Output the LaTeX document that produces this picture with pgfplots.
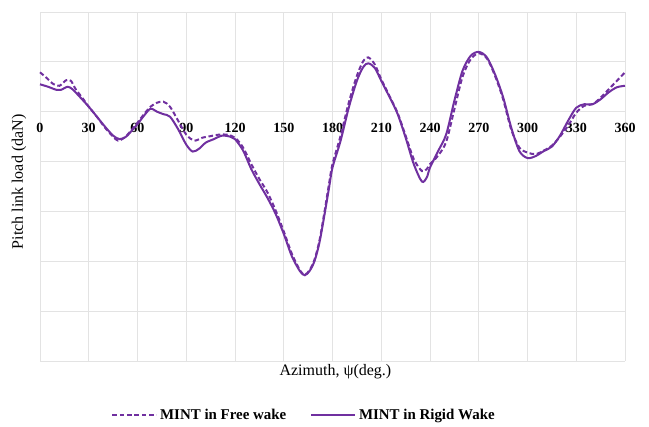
\documentclass[border=0pt]{standalone}
\usepackage{pgfplots}
\pgfplotsset{compat=1.18}
\usepackage{fontspec}
\setmainfont{Liberation Serif}
\definecolor{mintpurple}{HTML}{7030A0}
\definecolor{gridgray}{HTML}{E3E3E3}

% Pitch link load over one rotor revolution
\pgfplotstableread{
psi load
0 0.79
4 0.68
8 0.56
12 0.52
16 0.63
19 0.62
22 0.45
26 0.28
30 0.10
35 -0.10
40 -0.32
45 -0.50
48 -0.58
52 -0.52
56 -0.38
60 -0.22
64 -0.05
68 0.10
72 0.18
76 0.20
80 0.10
85 -0.18
90 -0.46
95 -0.58
100 -0.52
105 -0.49
110 -0.46
115 -0.46
120 -0.52
125 -0.72
130 -1.05
135 -1.35
140 -1.62
145 -1.98
150 -2.40
155 -2.85
160 -3.18
163 -3.27
166 -3.17
169 -2.96
172 -2.58
175 -2.02
178 -1.42
180 -1.05
185 -0.48
190 0.18
195 0.72
199 1.02
202 1.09
206 0.95
210 0.65
215 0.32
220 -0.02
225 -0.48
230 -0.95
235 -1.19
238 -1.15
240 -1.05
245 -0.88
250 -0.60
255 0.05
260 0.70
265 1.05
270 1.17
275 1.07
280 0.72
285 0.25
290 -0.36
295 -0.72
300 -0.82
305 -0.85
310 -0.78
315 -0.68
320 -0.50
325 -0.28
330 -0.02
335 0.12
340 0.15
345 0.28
350 0.45
355 0.62
360 0.79
}\freewake

\pgfplotstableread{
psi load
0 0.55
5 0.50
10 0.44
13 0.44
17 0.50
20 0.45
25 0.28
30 0.10
35 -0.10
40 -0.30
45 -0.48
49 -0.55
53 -0.50
57 -0.36
60 -0.25
64 -0.08
68 0.06
72 0.00
76 -0.05
80 -0.10
85 -0.35
90 -0.66
94 -0.80
98 -0.74
102 -0.62
107 -0.55
112 -0.48
117 -0.50
120 -0.55
125 -0.78
130 -1.15
135 -1.45
140 -1.73
145 -2.05
150 -2.45
155 -2.90
160 -3.20
163 -3.28
166 -3.19
169 -2.99
172 -2.62
175 -2.08
178 -1.50
180 -1.12
185 -0.58
190 0.08
195 0.62
199 0.90
202 0.97
206 0.88
210 0.62
215 0.30
220 -0.04
225 -0.52
230 -1.05
235 -1.40
238 -1.32
240 -1.12
245 -0.79
250 -0.45
255 0.22
260 0.82
265 1.12
270 1.20
275 1.09
280 0.75
285 0.29
290 -0.32
295 -0.79
300 -0.93
305 -0.89
310 -0.79
315 -0.70
320 -0.48
325 -0.18
330 0.08
335 0.15
340 0.15
345 0.25
350 0.39
355 0.49
360 0.52
}\rigidwake

\begin{document}
\begin{tikzpicture}
\begin{axis}[
  scale only axis,
  width=438.75pt, height=261.75pt,
  xmin=0, xmax=360, ymin=-5, ymax=2,
  axis x line*=middle, axis y line*=left,
  axis line style={gridgray, line width=0.6pt},
  hide obscured x ticks=false,
  xtick={0,30,...,360},
  xticklabels={\textbf{0},\textbf{30},\textbf{60},\textbf{90},\textbf{120},\textbf{150},\textbf{180},\textbf{210},\textbf{240},\textbf{270},\textbf{300},\textbf{330},\textbf{360}},
  xticklabel style={font=\fontsize{10.5}{12}\selectfont, yshift=-5pt},
  ytick={-5,-4,...,2},
  yticklabels={},
  major tick length=0pt,
  grid=major,
  major grid style={gridgray, line width=0.6pt},
  clip=false,
  ylabel={Pitch link load (daN)},
  ylabel style={at={(axis description cs:-0.036,0.513)}, anchor=center, font=\fontsize{12}{14}\selectfont},
  legend style={at={(axis description cs:0.452,-0.155)}, anchor=center, draw=none,
    font=\bfseries\fontsize{11.2}{13}\selectfont,
    /tikz/every even column/.append style={column sep=16pt},
    /tikz/every odd column/.append style={column sep=0pt}},
  legend columns=2,
  legend image code/.code={\draw[#1] (0pt,0pt) -- (33pt,0pt);},
]
\addplot[mintpurple, line width=1.5pt, dash pattern=on 3.5pt off 2pt, smooth, tension=0.5] table[x=psi, y=load] {\freewake};
\addlegendentry{MINT in Free wake}
\addplot[mintpurple, line width=1.5pt, smooth, tension=0.5] table[x=psi, y=load] {\rigidwake};
\addlegendentry{MINT in Rigid Wake}
\node[font=\fontsize{12}{14}\selectfont] at (axis description cs:0.505,-0.032) {Azimuth, ψ(deg.)};
\path (axis description cs:-0.06838,-0.17765) rectangle (axis description cs:1.04103,1.03438);
\end{axis}
\end{tikzpicture}
\end{document}
